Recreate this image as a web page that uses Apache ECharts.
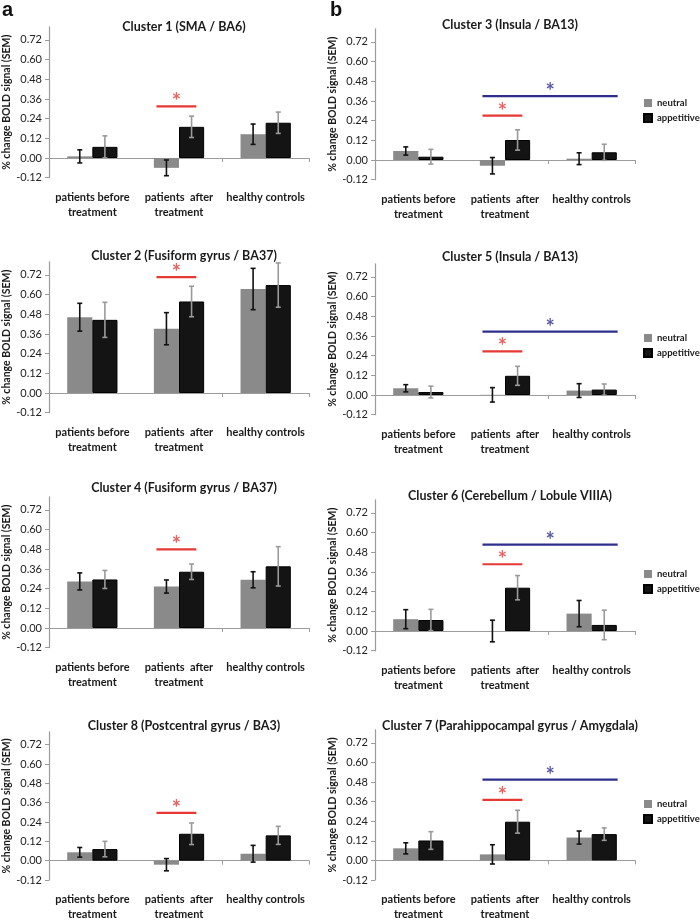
<!DOCTYPE html>
<html>
<head>
<meta charset="utf-8">
<script src="https://cdn.jsdelivr.net/npm/echarts@6/dist/echarts.min.js"></script>
<style>
  html, body { margin: 0; padding: 0; background: #fff; }
  #chart { width: 700px; height: 922px; }
</style>
</head>
<body>
<div id="chart"></div>
<script>
// groups on the x axis
const categories = ['patients before\ntreatment', 'patients  after\ntreatment', 'healthy controls'];
const yTicks = [-0.12, 0, 0.12, 0.24, 0.36, 0.48, 0.60, 0.72];
const Y_MIN = -0.12, Y_MAX = 0.80;

// mean % change and SEM, per cluster
const neutral1 = [0.010, -0.060, 0.145], neutralErr1 = [0.040, 0.048, 0.062];
const appetitive1 = [0.068, 0.190, 0.215], appetitiveErr1 = [0.067, 0.065, 0.065];

const neutral2 = [0.462, 0.392, 0.634], neutralErr2 = [0.085, 0.098, 0.126];
const appetitive2 = [0.446, 0.558, 0.658], appetitiveErr2 = [0.107, 0.093, 0.135];

const neutral4 = [0.284, 0.253, 0.294], neutralErr4 = [0.052, 0.040, 0.049];
const appetitive4 = [0.296, 0.343, 0.376], appetitiveErr4 = [0.055, 0.047, 0.120];

const neutral8 = [0.052, -0.025, 0.043], neutralErr8 = [0.030, 0.038, 0.052];
const appetitive8 = [0.072, 0.167, 0.157], appetitiveErr8 = [0.048, 0.067, 0.056];

const neutral3 = [0.055, -0.035, 0.008], neutralErr3 = [0.025, 0.050, 0.036];
const appetitive3 = [0.020, 0.122, 0.047], appetitiveErr3 = [0.045, 0.062, 0.049];

const neutral5 = [0.041, 0.001, 0.027], neutralErr5 = [0.022, 0.044, 0.042];
const appetitive5 = [0.018, 0.117, 0.033], appetitiveErr5 = [0.036, 0.058, 0.034];

const neutral6 = [0.072, 0.000, 0.106], neutralErr6 = [0.058, 0.066, 0.080];
const appetitive6 = [0.067, 0.264, 0.037], appetitiveErr6 = [0.065, 0.074, 0.090];

const neutral7 = [0.074, 0.037, 0.140], neutralErr7 = [0.034, 0.059, 0.040];
const appetitive7 = [0.122, 0.237, 0.161], appetitiveErr7 = [0.054, 0.070, 0.038];

// significance bars (height in % change), x span in category units
const redSpan = [1.24, 1.70];
const blueSpan = [1.24, 2.80];

const panels = [
  { title: 'Cluster 1 (SMA / BA6)', n: neutral1, ne: neutralErr1, a: appetitive1, ae: appetitiveErr1, red: 0.315, blue: null },
  { title: 'Cluster 2 (Fusiform gyrus / BA37)', n: neutral2, ne: neutralErr2, a: appetitive2, ae: appetitiveErr2, red: 0.707, blue: null },
  { title: 'Cluster 4 (Fusiform gyrus / BA37)', n: neutral4, ne: neutralErr4, a: appetitive4, ae: appetitiveErr4, red: 0.480, blue: null },
  { title: 'Cluster 8 (Postcentral gyrus / BA3)', n: neutral8, ne: neutralErr8, a: appetitive8, ae: appetitiveErr8, red: 0.297, blue: null },
  { title: 'Cluster 3 (Insula / BA13)', n: neutral3, ne: neutralErr3, a: appetitive3, ae: appetitiveErr3, red: 0.270, blue: 0.390 },
  { title: 'Cluster 5 (Insula / BA13)', n: neutral5, ne: neutralErr5, a: appetitive5, ae: appetitiveErr5, red: 0.266, blue: 0.386 },
  { title: 'Cluster 6 (Cerebellum / Lobule VIIIA)', n: neutral6, ne: neutralErr6, a: appetitive6, ae: appetitiveErr6, red: 0.407, blue: 0.527 },
  { title: 'Cluster 7 (Parahippocampal gyrus / Amygdala)', n: neutral7, ne: neutralErr7, a: appetitive7, ae: appetitiveErr7, red: 0.371, blue: 0.495 }
];

// where each panel sits on the page
const layout = [
  { left: 49, zeroY: 158, titleY: 23 },
  { left: 49, zeroY: 393, titleY: 252 },
  { left: 49, zeroY: 628, titleY: 484 },
  { left: 49, zeroY: 863, titleY: 722 },
  { left: 375, zeroY: 160, titleY: 21, legend: true },
  { left: 375, zeroY: 395, titleY: 253, legend: true },
  { left: 375, zeroY: 631, titleY: 492, legend: true },
  { left: 375, zeroY: 861, titleY: 722, legend: true }
];
const PLOT_W = 260;
const PX_PER_UNIT = 164;
const FONT = 'Lato, "Open Sans", sans-serif';
const GRAY = '#8a8a8a', BLACK = '#141414', RED = '#e53935', BLUE = '#2e2f8c', AXIS = '#9c9c9c';
const CAT_GAP = 0.42;

function errorBars(side, color) {
  return function (params, api) {
    const idx = api.value(0), mean = api.value(1), err = api.value(2);
    const band = api.size([1, 0])[0];
    const barW = band * (1 - CAT_GAP) / 2;
    const x = api.coord([idx, 0])[0] + side * barW / 2;
    const top = api.coord([idx, mean + err])[1];
    const bot = api.coord([idx, mean - err])[1];
    const cap = 2.5;
    const style = { stroke: color, lineWidth: 1.6 };
    return {
      type: 'group',
      children: [
        { type: 'line', shape: { x1: x, y1: top, x2: x, y2: bot }, style: style },
        { type: 'line', shape: { x1: x - cap, y1: top, x2: x + cap, y2: top }, style: style },
        { type: 'line', shape: { x1: x - cap, y1: bot, x2: x + cap, y2: bot }, style: style }
      ]
    };
  };
}

const grid = [], xAxis = [], yAxis = [], series = [], title = [], legend = [];

panels.forEach(function (p, i) {
  const L = layout[i];
  const top = L.zeroY - Y_MAX * PX_PER_UNIT;
  const height = (Y_MAX - Y_MIN) * PX_PER_UNIT;
  grid.push({ left: L.left, top: top, width: PLOT_W, height: height });

  title.push({
    text: p.title, left: L.left + PLOT_W / 2, top: L.titleY - 8, textAlign: 'center',
    textStyle: { fontFamily: FONT, fontWeight: 'bold', fontSize: 12.5, color: '#1a1a1a' }
  });

  // axis line through zero
  xAxis.push({
    type: 'category', gridIndex: i, data: categories,
    axisLine: { onZero: true, lineStyle: { color: AXIS, width: 1.2 } },
    axisTick: { show: true, length: 4, lineStyle: { color: AXIS } },
    axisLabel: { show: false }, splitLine: { show: false }
  });
  // group labels under the plot
  xAxis.push({
    type: 'category', gridIndex: i, data: categories, position: 'bottom',
    axisLine: { show: false, onZero: false }, axisTick: { show: false },
    axisLabel: { interval: 0, hideOverlap: false, margin: 12, lineHeight: 15, fontFamily: FONT, fontWeight: 'bold', fontSize: 11, color: '#1a1a1a' }
  });
  // hidden value axis for significance bars
  xAxis.push({ type: 'value', gridIndex: i, min: 0, max: 3, show: false });

  yAxis.push({
    type: 'value', gridIndex: i, min: Y_MIN, max: Y_MAX,
    name: '% change BOLD signal (SEM)', nameLocation: 'middle', nameGap: 36,
    nameTextStyle: { fontFamily: FONT, fontWeight: 'bold', fontSize: 10.5, color: '#1a1a1a' },
    axisLine: { show: true, lineStyle: { color: AXIS, width: 1.2 } },
    axisTick: { show: true, length: 4, lineStyle: { color: AXIS }, customValues: yTicks },
    axisLabel: {
      customValues: yTicks, margin: 7, fontFamily: FONT, fontSize: 11, color: '#222',
      formatter: function (v) { return v.toFixed(2); }
    },
    splitLine: { show: false }
  });

  const xi = i * 3;
  series.push({
    name: 'neutral', type: 'bar', xAxisIndex: xi, yAxisIndex: i, data: p.n,
    barGap: '0%', barCategoryGap: (CAT_GAP * 100) + '%',
    itemStyle: { color: GRAY }, silent: true
  });
  series.push({
    name: 'appetitive', type: 'bar', xAxisIndex: xi, yAxisIndex: i, data: p.a,
    barGap: '0%', barCategoryGap: (CAT_GAP * 100) + '%',
    itemStyle: { color: BLACK, borderColor: '#000', borderWidth: 1 }, silent: true
  });
  series.push({
    type: 'custom', xAxisIndex: xi, yAxisIndex: i, z: 5, silent: true,
    renderItem: errorBars(-1, '#111'),
    data: p.n.map(function (v, k) { return [k, v, p.ne[k]]; })
  });
  series.push({
    type: 'custom', xAxisIndex: xi, yAxisIndex: i, z: 5, silent: true,
    renderItem: errorBars(1, '#9a9a9a'),
    data: p.a.map(function (v, k) { return [k, v, p.ae[k]]; })
  });

  const sig = [[redSpan, p.red, RED]];
  if (p.blue !== null) sig.push([blueSpan, p.blue, BLUE]);
  sig.forEach(function (s) {
    series.push({
      type: 'line', xAxisIndex: xi + 2, yAxisIndex: i, symbol: 'none', silent: true,
      lineStyle: { color: s[2], width: 2.2 },
      data: [[s[0][0], s[1]], [s[0][1], s[1]]]
    });
    series.push({
      type: 'scatter', xAxisIndex: xi + 2, yAxisIndex: i, symbolSize: 0, silent: true,
      label: {
        show: true, position: 'inside', offset: [0, -4], formatter: '*',
        fontFamily: FONT, fontSize: 22, fontWeight: 'bold', color: s[2]
      },
      data: [[(s[0][0] + s[0][1]) / 2, s[1]]]
    });
  });

  if (L.legend) {
    legend.push({
      data: ['neutral', 'appetitive'], orient: 'vertical', left: 638, top: L.zeroY - 68,
      itemWidth: 8, itemHeight: 8, itemGap: 3, icon: 'rect',
      textStyle: { fontFamily: FONT, fontWeight: 'bold', fontSize: 9.5, color: '#1a1a1a', lineHeight: 12 }
    });
  }
});

const chart = echarts.init(document.getElementById('chart'), null, { renderer: 'canvas' });
chart.setOption({
  animation: false,
  backgroundColor: '#fff',
  title: title,
  legend: legend,
  grid: grid,
  xAxis: xAxis,
  yAxis: yAxis,
  series: series,
  graphic: [
    { type: 'text', left: 2, top: 0, style: { text: 'a', font: 'bold 20px "Liberation Sans", Arial, sans-serif', fill: '#111' } },
    { type: 'text', left: 330, top: 0, style: { text: 'b', font: 'bold 20px "Liberation Sans", Arial, sans-serif', fill: '#111' } }
  ]
});
</script>
</body>
</html>
